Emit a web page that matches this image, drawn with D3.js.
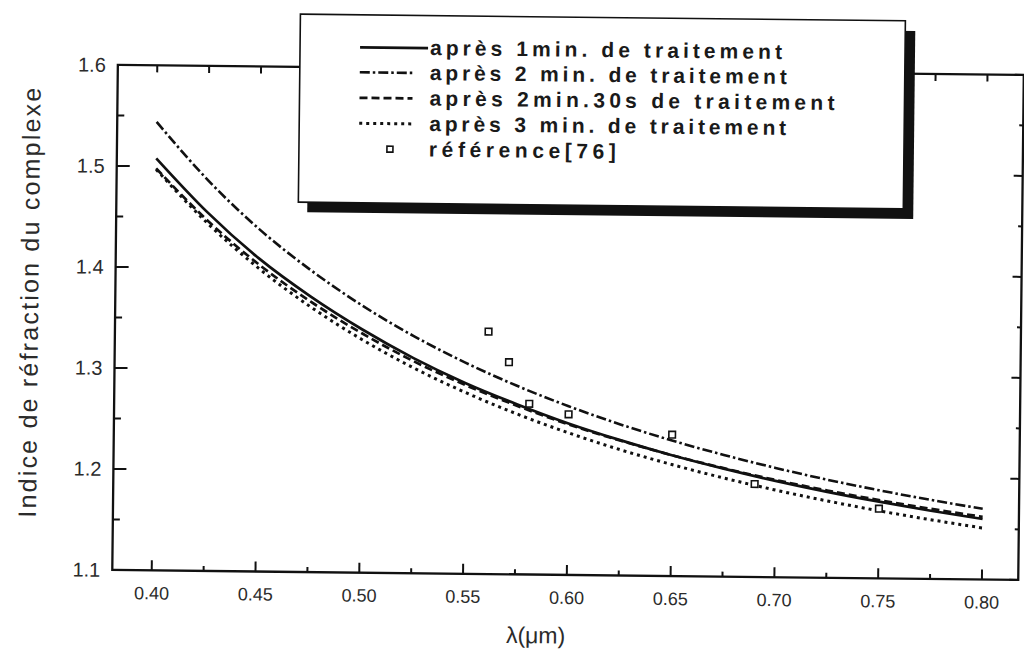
<!DOCTYPE html>
<html><head><meta charset="utf-8">
<script src="https://cdn.jsdelivr.net/npm/d3@7"></script>
<style>body{margin:0;background:#fff} svg{display:block}</style>
</head><body>
<svg id="c" width="1024" height="652"></svg>
<script>
// ---- data ----
const wavelengths = [0.400,0.425,0.450,0.475,0.500,0.525,0.550,0.575,0.600,0.625,0.650,0.675,0.700,0.725,0.750,0.775,0.800];
const apres1min   = [1.508,1.455,1.410,1.373,1.341,1.313,1.289,1.2685,1.250,1.234,1.2196,1.2069,1.1954,1.1851,1.1759,1.1675,1.1599];
const apres2min   = [1.544,1.487,1.439,1.399,1.3645,1.3348,1.3091,1.2867,1.2670,1.2496,1.2342,1.2205,1.2082,1.1971,1.1872,1.1782,1.1700];
const apres2min30 = [1.498,1.447,1.404,1.368,1.337,1.310,1.287,1.267,1.249,1.2336,1.2197,1.2074,1.1963,1.1864,1.1775,1.1694,1.1620];
const apres3min   = [1.497,1.4443,1.4001,1.3628,1.3309,1.3034,1.2797,1.2589,1.2407,1.2246,1.2104,1.1977,1.1863,1.1761,1.1669,1.1586,1.1510];
const refLambda = [0.561,0.571,0.581,0.600,0.650,0.690,0.750];
const refIndex  = [1.340,1.310,1.269,1.259,1.240,1.192,1.169];

const xMajor = [0.40,0.45,0.50,0.55,0.60,0.65,0.70,0.75,0.80];
const xMajorLabels = ["0.40","0.45","0.50","0.55","0.60","0.65","0.70","0.75","0.80"];
const xMinor = [0.425,0.475,0.525,0.575,0.625,0.675,0.725,0.775];
const yMajor = [1.1,1.2,1.3,1.4,1.5,1.6];
const yMajorLabels = ["1.1","1.2","1.3","1.4","1.5","1.6"];
const yMinor = [1.15,1.25,1.35,1.45,1.55];

const legendLabels = ["après 1min. de traitement","après 2 min. de traitement","après 2min.30s de traitement","après 3 min. de traitement","référence[76]"];
const xTitle = "λ(μm)";
const yTitle = "Indice de réfraction du complexe";

// ---- drawing ----
const svg = d3.select("#c");
const g = svg.append("g").attr("transform","rotate(0.63,512,326)");
const x = d3.scaleLinear().domain([0.381,0.8175]).range([115,1021]);
const y = d3.scaleLinear().domain([1.1,1.6]).range([574.3,69.3]);
const [X0,X1] = x.range(); const [Y0,Y1] = y.range();
const ink = "#111", txt = "#2b2b2b";
const font = "Liberation Sans, Arial, sans-serif";

// frame
g.append("path").attr("d",`M${X0},${Y1}H${X1}V${Y0}H${X0}Z`)
  .attr("fill","none").attr("stroke",ink).attr("stroke-width",2.3);

// ticks
const tk = (data, f) => g.append("g").selectAll("line").data(data).join("line")
  .attr("stroke",ink).attr("stroke-width",2).each(function(d){ const a=f(d); d3.select(this).attr("x1",a[0]).attr("y1",a[1]).attr("x2",a[2]).attr("y2",a[3]); });
tk(xMajor, d=>[x(d),Y0,x(d),Y0-10]);
tk(xMinor, d=>[x(d),Y0,x(d),Y0-5]);
tk(xMajor.concat(xMinor), d=>[x(d),Y1,x(d),Y1+7]);
tk(yMajor, d=>[X0,y(d),X0+13,y(d)]);
tk(yMinor, d=>[X0,y(d),X0+7,y(d)]);
tk(yMajor, d=>[X1,y(d),X1-9,y(d)]);
tk(yMinor, d=>[X1,y(d),X1-4,y(d)]);

// tick labels
g.append("g").selectAll("text").data(xMajor).join("text")
  .attr("x",d=>x(d)).attr("y",Y0+29).attr("text-anchor","middle")
  .attr("font-family",font).attr("font-size",18).attr("fill",txt)
  .text((d,i)=>xMajorLabels[i]);
g.append("g").selectAll("text").data(yMajor).join("text")
  .attr("x",X0-12).attr("y",d=>y(d)+7).attr("text-anchor","end")
  .attr("font-family",font).attr("font-size",20).attr("fill",txt)
  .text((d,i)=>yMajorLabels[i]);

// titles
g.append("text").attr("x",539).attr("y",643).attr("text-anchor","middle")
  .attr("font-family",font).attr("font-size",23).attr("fill",txt).text(xTitle);
g.append("text").attr("transform","translate(38,308) rotate(-90)").attr("text-anchor","middle")
  .attr("font-family",font).attr("font-size",25).attr("fill",txt)
  .attr("textLength",430).attr("lengthAdjust","spacing").text(yTitle);

// series
const styles = [
  {data:apres1min, dash:null, w:2.7},
  {data:apres2min, dash:"10,3,2.5,3", w:2.6},
  {data:apres2min30, dash:"8,4", w:2.7},
  {data:apres3min, dash:"3,4", w:3}
];
const line = d3.line().x((d,i)=>x(wavelengths[i])).y(d=>y(d)).curve(d3.curveMonotoneX);
styles.forEach(s=>{
  g.append("path").datum(s.data).attr("d",line).attr("fill","none")
   .attr("stroke",ink).attr("stroke-width",s.w).attr("stroke-dasharray",s.dash);
});
g.append("g").selectAll("rect").data(refLambda).join("rect")
  .attr("x",(d)=>x(d)-3.3).attr("y",(d,i)=>y(refIndex[i])-3.3).attr("width",6.6).attr("height",6.6)
  .attr("fill","#fff").attr("stroke",ink).attr("stroke-width",1.6);

// legend
const L = {x:297, y:16.5, w:605, h:188};
g.append("rect").attr("x",L.x+9).attr("y",L.y+10).attr("width",L.w+1).attr("height",L.h).attr("fill",ink);
g.append("rect").attr("x",L.x).attr("y",L.y).attr("width",L.w).attr("height",L.h).attr("fill","#fff").attr("stroke",ink).attr("stroke-width",1.6);
const rowY = [56,81,106.5,132,157.5];
const textLen = [352,357,405,357,187];
styles.forEach((s,i)=>{
  g.append("line").attr("x1",357).attr("x2",i===0?425:410).attr("y1",rowY[i]-7).attr("y2",rowY[i]-7)
   .attr("stroke",ink).attr("stroke-width",s.w).attr("stroke-dasharray",s.dash);
});
g.append("rect").attr("x",388-3).attr("y",rowY[4]-10).attr("width",6).attr("height",6)
  .attr("fill","#fff").attr("stroke",ink).attr("stroke-width",1.6);
g.append("g").selectAll("text").data(legendLabels).join("text")
  .attr("x",427).attr("y",(d,i)=>rowY[i])
  .attr("font-family",font).attr("font-size",21).attr("font-weight","bold")
  .attr("fill","#1a1a1a").attr("textLength",(d,i)=>textLen[i]).attr("lengthAdjust","spacing")
  .text(d=>d);
</script>
</body></html>
